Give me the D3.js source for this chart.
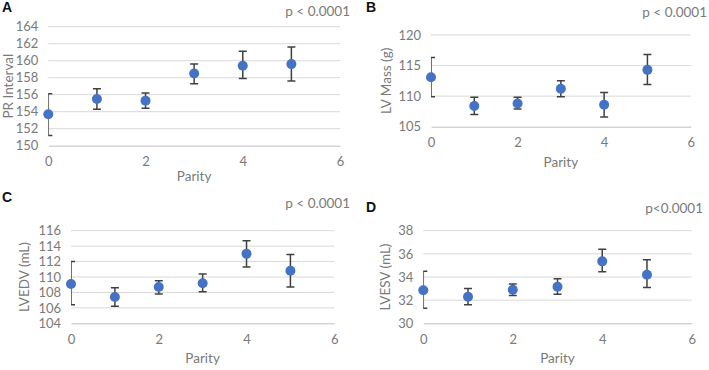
<!DOCTYPE html>
<html>
<head>
<meta charset="utf-8">
<script src="https://cdn.jsdelivr.net/npm/d3@7"></script>
<style>
  body { margin: 0; background: #fff; }
  svg { display: block; font-family: Lato, "Open Sans", sans-serif; }
</style>
</head>
<body>
<svg id="chart" width="709" height="370"></svg>
<script>
// x values (parity) shared by all four panels
const parity = [0, 1, 2, 3, 4, 5]
const xTicks = [0, 2, 4, 6]

// A: PR interval
const prMean = [153.7, 155.5, 155.3, 158.5, 159.4, 159.6]
const prLow = [151.2, 154.3, 154.4, 157.3, 157.9, 157.6]
const prHigh = [156.1, 156.7, 156.2, 159.6, 161.1, 161.6]
const prTicks = [150, 152, 154, 156, 158, 160, 162, 164]

// B: LV mass
const massMean = [113.1, 108.4, 108.8, 111.2, 108.6, 114.3]
const massLow = [109.9, 107.0, 107.9, 109.9, 106.6, 111.9]
const massHigh = [116.3, 109.8, 109.8, 112.5, 110.6, 116.8]
const massTicks = [105, 110, 115, 120]

// C: LVEDV
const edvMean = [109.1, 107.4, 108.7, 109.2, 113.0, 110.8]
const edvLow = [106.4, 106.2, 107.8, 108.1, 111.3, 108.7]
const edvHigh = [112.0, 108.6, 109.5, 110.4, 114.7, 112.9]
const edvTicks = [104, 106, 108, 110, 112, 114, 116]

// D: LVESV
const esvMean = [32.85, 32.3, 32.9, 33.15, 35.35, 34.2]
const esvLow = [31.3, 31.6, 32.4, 32.5, 34.45, 33.1]
const esvHigh = [34.5, 33.0, 33.4, 33.85, 36.4, 35.5]
const esvTicks = [30, 32, 34, 36, 38]

const panels = [
  { letter: "A", ylabel: "PR Interval", p: "p < 0.0001", mean: prMean, low: prLow, high: prHigh, ticks: prTicks,
    ox: 0, oy: 0, left: 48.3, right: 340, top: 26.7, bottom: 145.7, letterY: 12, pY: 16, pX: 350, ylabX: 13, xlabY: 181 },
  { letter: "B", ylabel: "LV Mass (g)", p: "p < 0.0001", mean: massMean, low: massLow, high: massHigh, ticks: massTicks,
    ox: 355, oy: 0, left: 76, right: 335.7, top: 35, bottom: 126.7, letterY: 12, pY: 17, pX: 352, ylabX: 36, xlabY: 167 },
  { letter: "C", ylabel: "LVEDV (mL)", p: "p < 0.0001", mean: edvMean, low: edvLow, high: edvHigh, ticks: edvTicks,
    ox: 0, oy: 180, left: 71, right: 334.3, top: 50.7, bottom: 143.3, letterY: 22, pY: 28, pX: 350, ylabX: 29, xlabY: 183 },
  { letter: "D", ylabel: "LVESV (mL)", p: "p<0.0001", mean: esvMean, low: esvLow, high: esvHigh, ticks: esvTicks,
    ox: 355, oy: 180, left: 68.3, right: 336.7, top: 50.7, bottom: 143.3, letterY: 32, pY: 33, pX: 348, ylabX: 35, xlabY: 183 }
]

const svg = d3.select("#chart")

panels.forEach((p, i) => {
  const g = svg.append("g").attr("transform", `translate(${p.ox},${p.oy})`)
  const x = d3.scaleLinear().domain([0, 6]).range([p.left, p.right])
  const y = d3.scaleLinear().domain(d3.extent(p.ticks)).range([p.bottom, p.top])

  // horizontal gridlines
  g.append("g")
    .selectAll("line")
    .data(p.ticks.slice(1))
    .join("line")
    .attr("x1", p.left)
    .attr("x2", p.right)
    .attr("y1", (d) => y(d))
    .attr("y2", (d) => y(d))
    .attr("stroke", "#d9d9d9")
    .attr("stroke-width", 1)

  // y axis labels, no axis line
  const yAxis = g.append("g")
    .attr("transform", `translate(${p.left},0)`)
    .call(d3.axisLeft(y).tickValues(p.ticks).tickFormat(d3.format("d")).tickSize(0).tickPadding(10))
  yAxis.select(".domain").remove()
  yAxis.selectAll("text")
    .attr("fill", "#7a7a7a")
    .style("font-size", "13px")
    .style("font-family", "Lato, sans-serif")

  // x axis
  const xAxis = g.append("g")
    .attr("transform", `translate(0,${p.bottom})`)
    .call(d3.axisBottom(x).tickValues(xTicks).tickFormat(d3.format("d")).tickSize(0).tickPadding(11))
  xAxis.select(".domain").attr("stroke", "#bfbfbf")
  xAxis.selectAll("text")
    .attr("fill", "#7a7a7a")
    .style("font-size", "13px")
    .style("font-family", "Lato, sans-serif")

  // clip so the bars on x=0 only show their right half
  const clipId = "clip" + i
  g.append("clipPath")
    .attr("id", clipId)
    .append("rect")
    .attr("x", p.left)
    .attr("y", 0)
    .attr("width", p.right - p.left + 10)
    .attr("height", p.bottom + 5)

  const pts = parity.map((d, k) => ({ x: d, m: p.mean[k], lo: p.low[k], hi: p.high[k] }))
  const bars = g.append("g").attr("clip-path", `url(#${clipId})`)
    .attr("stroke", "#404040")
    .attr("stroke-width", 1.5)
  bars.selectAll(".stem")
    .data(pts)
    .join("line")
    .attr("class", "stem")
    .attr("x1", (d) => x(d.x))
    .attr("x2", (d) => x(d.x))
    .attr("y1", (d) => y(d.lo))
    .attr("y2", (d) => y(d.hi))
  bars.selectAll(".capLo")
    .data(pts)
    .join("line")
    .attr("class", "capLo")
    .attr("x1", (d) => x(d.x) - 4)
    .attr("x2", (d) => x(d.x) + 4)
    .attr("y1", (d) => y(d.lo))
    .attr("y2", (d) => y(d.lo))
  bars.selectAll(".capHi")
    .data(pts)
    .join("line")
    .attr("class", "capHi")
    .attr("x1", (d) => x(d.x) - 4)
    .attr("x2", (d) => x(d.x) + 4)
    .attr("y1", (d) => y(d.hi))
    .attr("y2", (d) => y(d.hi))

  g.selectAll(".dot")
    .data(pts)
    .join("circle")
    .attr("class", "dot")
    .attr("cx", (d) => x(d.x))
    .attr("cy", (d) => y(d.m))
    .attr("r", 5)
    .attr("fill", "#4472c4")

  // axis titles
  g.append("text")
    .attr("x", (p.left + p.right) / 2)
    .attr("y", p.xlabY)
    .attr("text-anchor", "middle")
    .attr("fill", "#7a7a7a")
    .style("font-size", "13.5px")
    .text("Parity")
  g.append("text")
    .attr("transform", `translate(${p.ylabX},${(p.top + p.bottom) / 2}) rotate(-90)`)
    .attr("text-anchor", "middle")
    .attr("fill", "#7a7a7a")
    .style("font-size", "13.5px")
    .text(p.ylabel)

  g.append("text")
    .attr("x", p.pX)
    .attr("y", p.pY)
    .attr("text-anchor", "end")
    .attr("fill", "#7a7a7a")
    .style("font-size", "13.5px")
    .text(p.p)

  g.append("text")
    .attr("x", i % 2 == 0 ? 2 : 11)
    .attr("y", p.letterY)
    .attr("fill", "#111")
    .style("font-family", "'Liberation Sans', Arial, sans-serif")
    .style("font-weight", "bold")
    .style("font-size", "14px")
    .text(p.letter)
})
</script>
</body>
</html>
